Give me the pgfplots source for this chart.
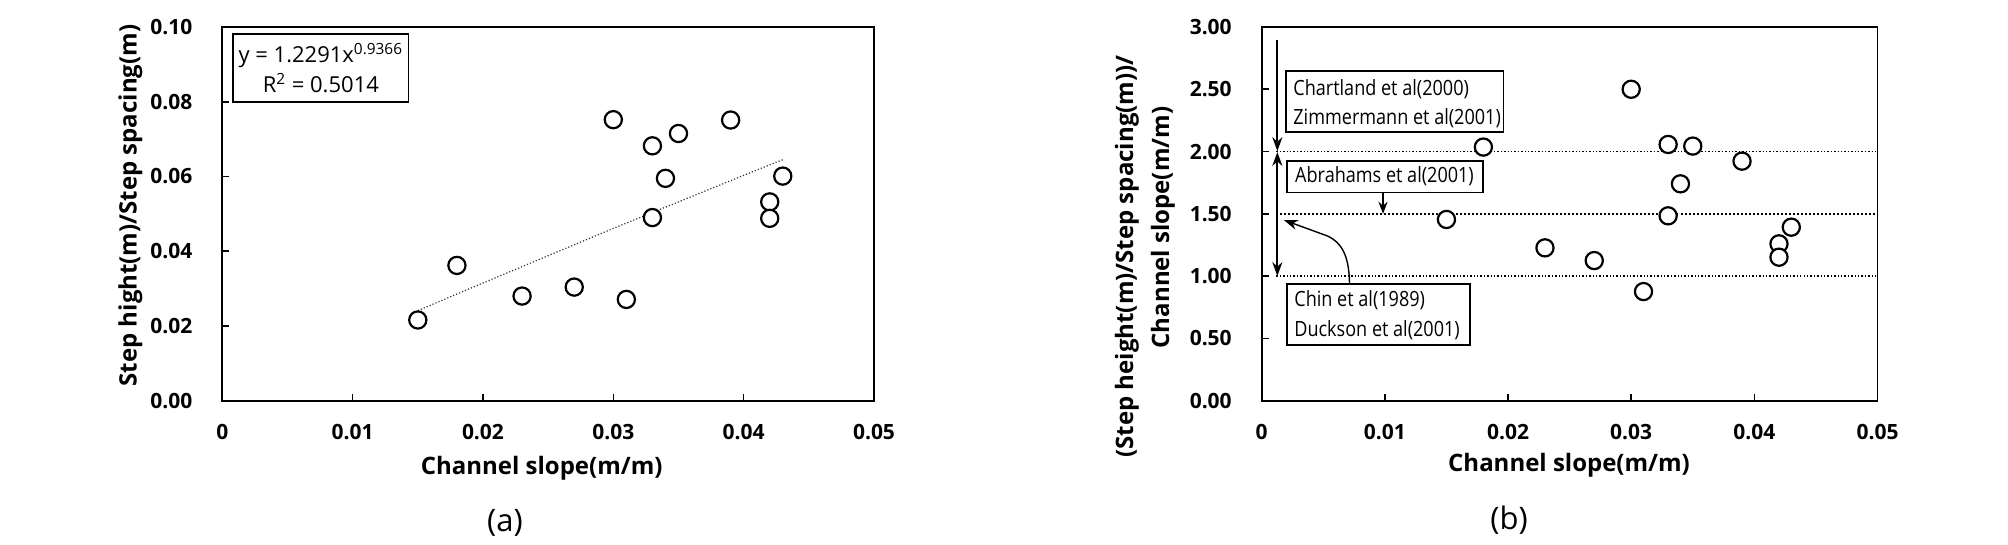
\documentclass[border=0pt]{standalone}
\usepackage{fontspec}
\setmainfont{Open Sans}
\usepackage{graphicx}
\usepackage{pgfplots}
\pgfplotsset{compat=1.18}
\usetikzlibrary{arrows.meta}
\begin{document}
\begin{tikzpicture}
\path[use as bounding box] (0,0) rectangle (1004pt,272.5pt);
\pgfplotsset{
 mystyle/.style={
  scale only axis, anchor=south west,
  axis line style={line width=0.9pt},
  tick align=inside, xtick pos=bottom, ytick pos=left,
  major tick length=3.5pt, tick style={line width=0.8pt, black},
  /pgf/number format/assume math mode=true,
  scaled ticks=false,
  xmin=0, xmax=0.05, xtick={0,0.01,0.02,0.03,0.04,0.05},
  xticklabel style={font=\bfseries\fontsize{10.5}{12}\selectfont, anchor=north, inner sep=0pt, yshift=-11.5pt, /pgf/number format/fixed, /pgf/number format/precision=2},
  yticklabel style={font=\bfseries\fontsize{10.5}{12}\selectfont, anchor=east, inner sep=0pt, xshift=-14.8pt, /pgf/number format/fixed, /pgf/number format/fixed zerofill, /pgf/number format/precision=2},
  mymarks/.style={only marks, mark=*, mark size=4.3pt, mark options={fill=white, draw=black, line width=1.1pt}},
 }
}
% ---------------- panel (a)
\begin{axis}[mystyle, at={(111.15pt,72.15pt)}, width=325.85pt, height=186.85pt,
  ymin=0, ymax=0.1, ytick={0,0.02,0.04,0.06,0.08,0.1}]
\addplot[densely dotted, line width=0.6pt, black!80, no marks] coordinates {
(0.015,0.0241) (0.020,0.0315) (0.025,0.0388) (0.030,0.0461) (0.035,0.0532) (0.040,0.0603) (0.043,0.0645)};
\addplot[mymarks] table {
x y
0.015 0.0216
0.018 0.0362
0.023 0.0280
0.027 0.0304
0.030 0.0752
0.031 0.0271
0.033 0.0682
0.033 0.0490
0.034 0.0595
0.035 0.0715
0.039 0.0751
0.042 0.0532
0.042 0.0488
0.043 0.0601
};
\draw[line width=0.8pt] (axis cs:0.00081,0.0800) rectangle (axis cs:0.0143,0.0982);
\node[anchor=base, inner sep=0pt, font=\fontsize{11}{13}\selectfont] at (axis cs:0.00756,0.0906) {y = 1.2291x\textsuperscript{0.9366}};
\node[anchor=base, inner sep=0pt, font=\fontsize{11}{13}\selectfont] at (axis cs:0.00756,0.0826) {R\textsuperscript{2} = 0.5014};
\end{axis}
% ---------------- panel (b)
\begin{axis}[mystyle, at={(630.85pt,72.15pt)}, width=307.9pt, height=186.85pt,
  ymin=0, ymax=3, ytick={0,0.5,1,1.5,2,2.5,3}]
\addplot[densely dotted, line width=0.7pt, no marks] coordinates {(0.0012,2) (0.05,2)};
\addplot[densely dotted, line width=1pt, no marks] coordinates {(0.0012,1.5) (0.05,1.5)};
\addplot[densely dotted, line width=0.7pt, no marks] coordinates {(0.0012,1) (0.05,1)};
\addplot[mymarks] table {
x y
0.015 1.455
0.018 2.036
0.023 1.227
0.027 1.125
0.030 2.500
0.031 0.876
0.033 2.057
0.033 1.484
0.034 1.741
0.035 2.044
0.039 1.923
0.042 1.259
0.042 1.152
0.043 1.393
};
\draw[line width=1pt, -{Stealth[length=7pt,width=5pt]}] (axis cs:0.00127,2.894) -- (axis cs:0.00127,2.003);
\draw[line width=1pt, {Stealth[length=7pt,width=5pt]}-{Stealth[length=7pt,width=5pt]}] (axis cs:0.00127,1.997) -- (axis cs:0.00127,1.0);
\draw[line width=1pt, -{Stealth[length=6pt,width=4.5pt]}] (axis cs:0.00985,1.672) -- (axis cs:0.00985,1.5);
\draw[line width=0.7pt, -{Stealth[length=7pt,width=5pt]}] (axis cs:0.00713,0.938) .. controls (axis cs:0.0071,1.18) and (axis cs:0.0064,1.27) .. (axis cs:0.0054,1.32) -- (axis cs:0.0018,1.45);
\draw[line width=0.9pt] (axis cs:0.00196,2.155) rectangle (axis cs:0.01963,2.645);
\draw[line width=0.9pt] (axis cs:0.00207,1.672) rectangle (axis cs:0.01796,1.923);
\draw[line width=0.9pt] (axis cs:0.00204,0.446) rectangle (axis cs:0.01690,0.938);
\node[anchor=base west, inner sep=0pt, font=\fontsize{10.5}{12}\selectfont] at (axis cs:0.00254,2.452) {\scalebox{0.86}[1]{Chartland et al(2000)}};
\node[anchor=base west, inner sep=0pt, font=\fontsize{10.5}{12}\selectfont] at (axis cs:0.00254,2.219) {\scalebox{0.86}[1]{Zimmermann et al(2001)}};
\node[anchor=base west, inner sep=0pt, font=\fontsize{10.5}{12}\selectfont] at (axis cs:0.00269,1.749) {\scalebox{0.86}[1]{Abrahams et al(2001)}};
\node[anchor=base west, inner sep=0pt, font=\fontsize{10.5}{12}\selectfont] at (axis cs:0.00262,0.760) {\scalebox{0.86}[1]{Chin et al(1989)}};
\node[anchor=base west, inner sep=0pt, font=\fontsize{10.5}{12}\selectfont] at (axis cs:0.00262,0.519) {\scalebox{0.86}[1]{Duckson et al(2001)}};
\end{axis}
% ---------------- labels
\node[rotate=90, anchor=base, inner sep=0pt, font=\bfseries\fontsize{12}{14}\selectfont] at (68.35pt,169.75pt) {Step hight(m)/Step spacing(m)};
\node[anchor=base, inner sep=0pt, font=\bfseries\fontsize{12}{14}\selectfont] at (270.85pt,35pt) {Channel slope(m/m)};
\node[anchor=base, inner sep=0pt, font=\fontsize{15.5}{18}\selectfont] at (252.5pt,6.65pt) {(a)};
\node[rotate=90, anchor=base, inner sep=0pt, font=\bfseries\fontsize{12}{14}\selectfont] at (566.5pt,144.25pt) {(Step height(m)/Step spacing(m))/};
\node[rotate=90, anchor=base, inner sep=0pt, font=\bfseries\fontsize{12}{14}\selectfont] at (584.5pt,158.75pt) {Channel slope(m/m)};
\node[anchor=base, inner sep=0pt, font=\bfseries\fontsize{12}{14}\selectfont] at (784.5pt,36.65pt) {Channel slope(m/m)};
\node[anchor=base, inner sep=0pt, font=\fontsize{15.5}{18}\selectfont] at (754.5pt,7.5pt) {(b)};
\end{tikzpicture}
\end{document}
